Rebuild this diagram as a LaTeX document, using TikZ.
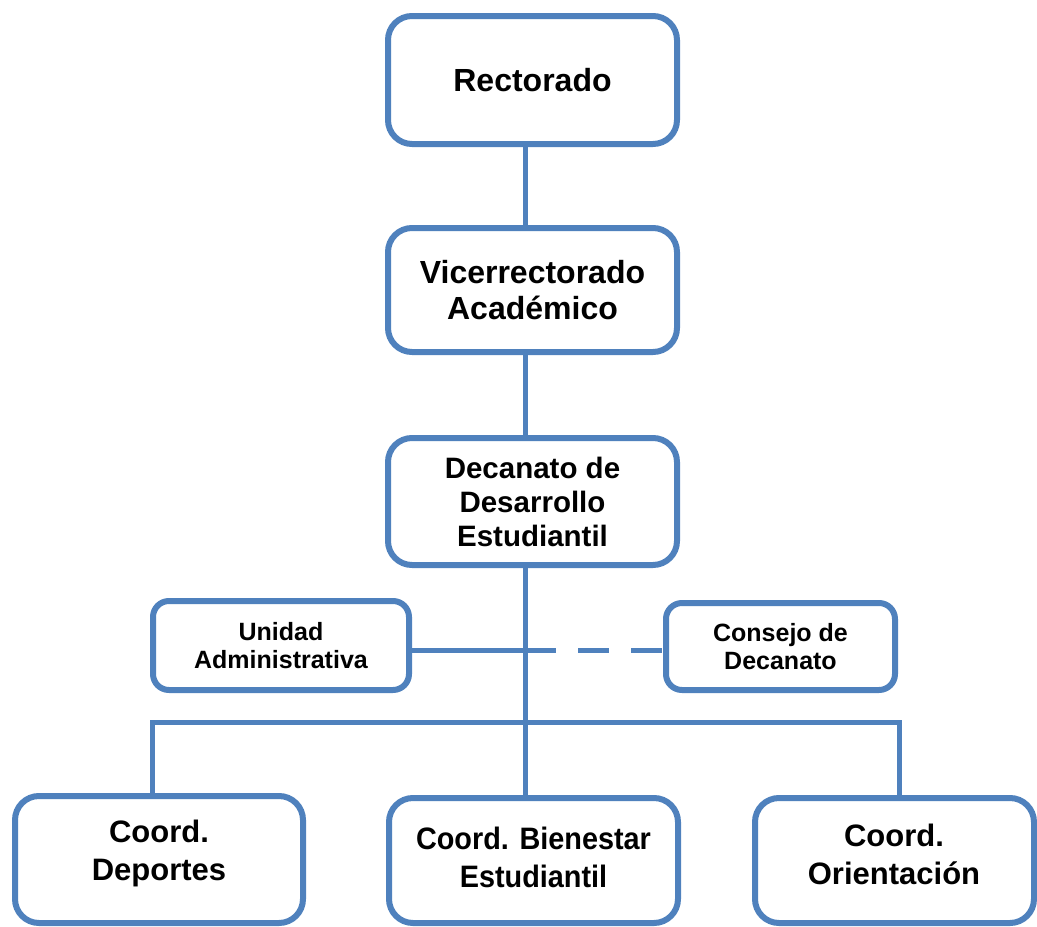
\documentclass[tikz,border=0pt]{standalone}
\usepackage{fontspec}
\setmainfont{Liberation Sans}
\usetikzlibrary{backgrounds}
\definecolor{orgblue}{RGB}{79,129,189}
\begin{document}
\begin{tikzpicture}[x=1pt,y=-1pt,
  box/.style={draw=orgblue,line width=6pt,fill=white,rounded corners=24pt,inner sep=0pt,align=center},
  smallbox/.style={box,rounded corners=16pt},
  link/.style={draw=orgblue,line width=5pt},
  big/.style={font=\bfseries\fontsize{32}{37}\selectfont},
  mid/.style={font=\bfseries\fontsize{29.5}{34}\selectfont},
  small/.style={font=\bfseries\fontsize{25}{28}\selectfont},
  bottom/.style={font=\bfseries\fontsize{31}{38}\selectfont,align=center,inner sep=0pt}]
\useasboundingbox (0,0) rectangle (1037,927);
\node[box,big,minimum width=289pt,minimum height=128pt] (rect) at (532.5,80) {Rectorado};
\node[box,big,minimum width=289pt,minimum height=124pt] (vice) at (532.5,290) {Vicerrectorado\\[-0.5pt]Académico};
\node[box,mid,minimum width=289pt,minimum height=127pt] (dec) at (532.5,501.5) {Decanato de\\Desarrollo\\Estudiantil};
\node[smallbox,small,minimum width=256pt,minimum height=89pt] (uni) at (281,645.5) {Unidad\\Administrativa};
\node[smallbox,small,minimum width=229pt,minimum height=87pt] (con) at (780.5,646.5) {Consejo de\\Decanato};
\node[box,minimum width=288pt,minimum height=127pt] (b1) at (159,859.5) {};
\node[box,minimum width=289pt,minimum height=125pt] (b2) at (533.5,860.5) {};
\node[box,minimum width=279pt,minimum height=125pt] (b3) at (894.5,860.5) {};
\node[bottom] (b1t) at (159,853) {Coord.\\Deportes};
\node[bottom,xscale=0.93,transform shape] (b2t) at (533.5,857) {Coord. Bienestar\\Estudiantil};
\node[bottom] (b3t) at (894,854) {Coord.\\Orientación};
\coordinate (spine) at (525,650);
\coordinate (bl) at (152,722);
\coordinate (br) at (899,722);
\begin{scope}[on background layer]
\draw[link] (rect.south -| spine) -- (vice.north -| spine);
\draw[link] (vice.south -| spine) -- (dec.south -| spine) -- (b2.north -| spine);
\draw[link] (uni.east |- spine) -- (spine);
\draw[link,dash pattern=on 31pt off 22pt] (spine) -- (spine -| con.west);
\draw[link,line join=miter] (b1.north -| bl) -- (bl) -- (br) -- (b3.north -| br);
\end{scope}
\end{tikzpicture}
\end{document}
